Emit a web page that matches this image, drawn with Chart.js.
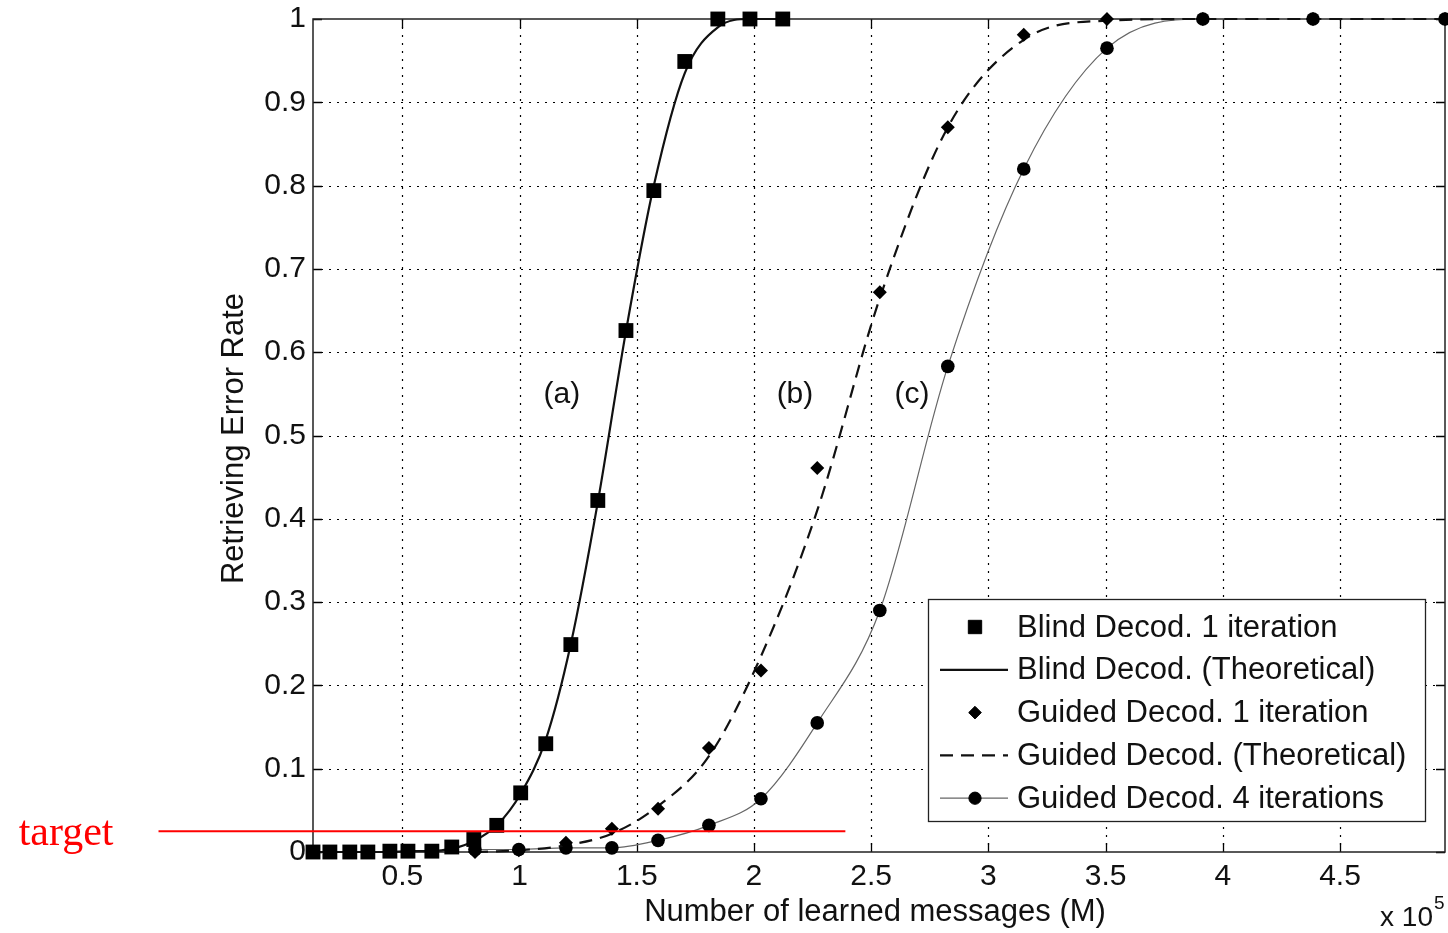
<!DOCTYPE html>
<html>
<head>
<meta charset="utf-8">
<script src="https://cdn.jsdelivr.net/npm/chart.js@4.4.0/dist/chart.umd.min.js"></script>
<style>
html,body{margin:0;padding:0;background:#fff;}
#wrap{position:relative;width:1448px;height:933px;}
</style>
</head>
<body>
<div id="wrap"><canvas id="c" width="1448" height="933"></canvas></div>
<script>
// ---------- DATA (x in units of 10^5 learned messages) ----------
const xBlind = [0.119, 0.191, 0.276, 0.353, 0.447, 0.524, 0.626, 0.711, 0.805, 0.903, 1.005, 1.112, 1.219, 1.334, 1.454, 1.573, 1.705, 1.846, 1.983, 2.123];
const blindSim = [0, 0, 0, 0, 0.001, 0.001, 0.001, 0.006, 0.015, 0.032, 0.071, 0.130, 0.249, 0.422, 0.626, 0.794, 0.949, 1, 1, 1];
const blindTheory = [0, 0, 0, 0, 0, 0.001, 0.001, 0.004, 0.013, 0.032, 0.070, 0.135, 0.250, 0.420, 0.625, 0.800, 0.935, 0.990, 1, 1];

const xGuided = [0.810, 0.997, 1.198, 1.394, 1.591, 1.808, 2.030, 2.270, 2.537, 2.827, 3.151, 3.506, 3.915, 4.385, 4.948];
const guided1 = [0, 0.002, 0.011, 0.028, 0.052, 0.125, 0.218, 0.461, 0.672, 0.870, 0.981, 1, 1, 1, 1];
const guidedTheory = [0, 0.002, 0.008, 0.022, 0.055, 0.115, 0.235, 0.410, 0.665, 0.870, 0.975, 0.998, 1, 1, 1];
const guided4 = [0.003, 0.003, 0.005, 0.005, 0.014, 0.032, 0.064, 0.155, 0.290, 0.583, 0.820, 0.965, 1, 1, 1];

const seriesLabels = ['Blind Decod. 1 iteration', 'Blind Decod. (Theoretical)', 'Guided Decod. 1 iteration', 'Guided Decod. (Theoretical)', 'Guided Decod. 4 iterations'];

const xTickValues = [0.5, 1, 1.5, 2, 2.5, 3, 3.5, 4, 4.5];
const xTickLabels = ['0.5', '1', '1.5', '2', '2.5', '3', '3.5', '4', '4.5'];
const yTickValues = [0, 0.1, 0.2, 0.3, 0.4, 0.5, 0.6, 0.7, 0.8, 0.9, 1];
const yTickLabels = ['0', '0.1', '0.2', '0.3', '0.4', '0.5', '0.6', '0.7', '0.8', '0.9', '1'];
const xMin = 0.119, xMax = 4.948;

const annotLabels = ['(a)', '(b)', '(c)'];
const annotX = [1.181, 2.175, 2.674];
const annotY = [0.549, 0.549, 0.549];

const targetLabel = 'target';
const targetY = 0.025;
const targetXStart = -0.54, targetXEnd = 2.39;

const xTitle = 'Number of learned messages (M)';
const yTitle = 'Retrieving Error Rate';
const xExponent = '5';

// ---------- helpers ----------
const FONT = '"Liberation Sans", Arial, Helvetica, sans-serif';
const pts = (xs, ys) => xs.map((x, i) => ({x: x, y: ys[i]}));

const matlabPlugin = {
  id: 'matlab',
  beforeDatasetsDraw(chart) {
    const {ctx, chartArea: a, scales: {x, y}} = chart;
    ctx.save();
    // dotted grid
    ctx.strokeStyle = '#000';
    ctx.lineWidth = 1.2;
    ctx.setLineDash([2, 6]);
    xTickValues.forEach(v => {
      const px = Math.round(x.getPixelForValue(v)) + 0.5;
      ctx.beginPath(); ctx.moveTo(px, a.top); ctx.lineTo(px, a.bottom); ctx.stroke();
    });
    yTickValues.forEach(v => {
      if (v <= 0 || v >= 1) return;
      const py = Math.round(y.getPixelForValue(v)) + 0.5;
      ctx.beginPath(); ctx.moveTo(a.left, py); ctx.lineTo(a.right, py); ctx.stroke();
    });
    ctx.setLineDash([]);
    // inner tick marks
    ctx.lineWidth = 1.3;
    const tl = 9;
    xTickValues.forEach(v => {
      const px = Math.round(x.getPixelForValue(v)) + 0.5;
      ctx.beginPath();
      ctx.moveTo(px, a.bottom); ctx.lineTo(px, a.bottom - tl);
      ctx.moveTo(px, a.top); ctx.lineTo(px, a.top + tl);
      ctx.stroke();
    });
    yTickValues.forEach(v => {
      const py = Math.round(y.getPixelForValue(v)) + 0.5;
      ctx.beginPath();
      ctx.moveTo(a.left, py); ctx.lineTo(a.left + tl, py);
      ctx.moveTo(a.right, py); ctx.lineTo(a.right - tl, py);
      ctx.stroke();
    });
    // axes box
    ctx.lineWidth = 1.5;
    ctx.strokeStyle = '#222';
    ctx.strokeRect(a.left, a.top, a.right - a.left, a.bottom - a.top);
    ctx.restore();
  },
  afterDatasetsDraw(chart) {
    const {ctx, chartArea: a, scales: {x, y}} = chart;
    ctx.save();
    // annotations (a) (b) (c)
    ctx.fillStyle = '#111';
    ctx.font = '30px ' + FONT;
    ctx.textAlign = 'center';
    ctx.textBaseline = 'middle';
    annotLabels.forEach((t, i) => {
      ctx.fillText(t, x.getPixelForValue(annotX[i]), y.getPixelForValue(annotY[i]));
    });

    // legend box
    const lw = 497, lh = 222;
    const lx = a.right - 20 - lw, ly = a.bottom - 31 - lh;
    ctx.fillStyle = '#fff';
    ctx.fillRect(lx, ly, lw, lh);
    ctx.strokeStyle = '#222';
    ctx.lineWidth = 1.3;
    ctx.strokeRect(lx + 0.5, ly + 0.5, lw, lh);
    chart.data.datasets.forEach((ds, i) => {
      const cy = ly + 28 + i * 42.8;
      const sx0 = lx + 12, sx1 = lx + 80, mx = lx + 47;
      if (ds.showLine) {
        ctx.save();
        ctx.strokeStyle = ds.borderColor;
        ctx.lineWidth = ds.borderWidth;
        ctx.setLineDash(ds.borderDash || []);
        ctx.beginPath(); ctx.moveTo(sx0, cy); ctx.lineTo(sx1, cy); ctx.stroke();
        ctx.restore();
      }
      if (ds.pointRadius > 0) {
        ctx.save();
        ctx.fillStyle = ds.pointBackgroundColor;
        ctx.strokeStyle = ds.pointBorderColor;
        ctx.lineWidth = 1;
        Chart.helpers.drawPoint(ctx, {pointStyle: ds.pointStyle, radius: ds.pointRadius * 0.9, rotation: 0, borderWidth: 1}, mx, cy);
        ctx.restore();
      }
      ctx.fillStyle = '#111';
      ctx.font = '31px ' + FONT;
      ctx.textAlign = 'left';
      ctx.textBaseline = 'middle';
      ctx.fillText(ds.label, lx + 89, cy + 1);
    });

    // axis titles
    ctx.fillStyle = '#111';
    ctx.font = '31px ' + FONT;
    ctx.textAlign = 'center';
    ctx.textBaseline = 'middle';
    ctx.fillText(xTitle, (a.left + a.right) / 2 - 4, a.bottom + 60);
    ctx.save();
    ctx.translate(a.left - 79, (a.top + a.bottom) / 2 + 3);
    ctx.rotate(-Math.PI / 2);
    ctx.fillText(yTitle, 0, 0);
    ctx.restore();
    // x 10^5
    ctx.font = '28px ' + FONT;
    ctx.textAlign = 'right';
    ctx.fillText('x 10', a.right - 12, a.bottom + 66);
    ctx.font = '19px ' + FONT;
    ctx.textAlign = 'left';
    ctx.fillText(xExponent, a.right - 11, a.bottom + 52);

    // target line + label
    const tx0 = x.getPixelForValue(targetXStart), tx1 = x.getPixelForValue(targetXEnd);
    const ty = y.getPixelForValue(targetY);
    ctx.strokeStyle = '#ff0000';
    ctx.lineWidth = 2;
    ctx.beginPath(); ctx.moveTo(tx0, ty); ctx.lineTo(tx1, ty); ctx.stroke();
    ctx.fillStyle = '#ff0000';
    ctx.font = '42px "Liberation Serif", "Times New Roman", serif';
    ctx.textAlign = 'right';
    ctx.textBaseline = 'alphabetic';
    ctx.fillText(targetLabel, tx0 - 45, ty + 14);
    ctx.restore();
  }
};

const ctx = document.getElementById('c').getContext('2d');
new Chart(ctx, {
  type: 'scatter',
  data: {
    datasets: [
      {label: seriesLabels[0], data: pts(xBlind, blindSim), showLine: false, pointStyle: 'rect', pointRadius: 10.5,
       pointBackgroundColor: '#000', pointBorderColor: '#000', pointBorderWidth: 0, backgroundColor: '#000', borderColor: '#000', clip: false},
      {label: seriesLabels[1], data: pts(xBlind, blindTheory), showLine: true, pointRadius: 0, borderColor: '#111', borderWidth: 2.2,
       cubicInterpolationMode: 'monotone', clip: false},
      {label: seriesLabels[2], data: pts(xGuided, guided1), showLine: false, pointStyle: 'rectRot', pointRadius: 7,
       pointBackgroundColor: '#000', pointBorderColor: '#000', pointBorderWidth: 0, backgroundColor: '#000', borderColor: '#000', clip: false},
      {label: seriesLabels[3], data: pts(xGuided, guidedTheory), showLine: true, pointRadius: 0, borderColor: '#111', borderWidth: 2.2,
       borderDash: [13, 8], cubicInterpolationMode: 'monotone', clip: false},
      {label: seriesLabels[4], data: pts(xGuided, guided4), showLine: true, pointStyle: 'circle', pointRadius: 6.8,
       pointBackgroundColor: '#000', pointBorderColor: '#000', pointBorderWidth: 0, borderColor: '#666', borderWidth: 1.2,
       cubicInterpolationMode: 'monotone', clip: false}
    ]
  },
  options: {
    responsive: false,
    animation: false,
    devicePixelRatio: 1,
    layout: {autoPadding: false, padding: {left: 0, top: 19, right: 3, bottom: 0}},
    plugins: {legend: {display: false}, tooltip: {enabled: false}},
    elements: {line: {tension: 0}},
    scales: {
      x: {
        type: 'linear', min: xMin, max: xMax,
        grid: {display: false, drawTicks: false},
        border: {display: false},
        afterBuildTicks: s => { s.ticks = xTickValues.map(v => ({value: v})); },
        afterFit: s => { s.height = 81; s.paddingLeft = 0; s.paddingRight = 0; },
        ticks: {
          autoSkip: false, maxRotation: 0, padding: 7, color: '#111',
          font: {family: FONT, size: 30},
          callback: (v, i) => xTickLabels[i]
        }
      },
      y: {
        type: 'linear', min: 0, max: 1,
        grid: {display: false, drawTicks: false},
        border: {display: false},
        afterBuildTicks: s => { s.ticks = yTickValues.map(v => ({value: v})); },
        afterFit: s => { s.width = 313; s.paddingTop = 0; s.paddingBottom = 0; },
        ticks: {
          autoSkip: false, padding: 7, color: '#111',
          font: {family: FONT, size: 30},
          callback: (v, i) => yTickLabels[i]
        }
      }
    }
  },
  plugins: [matlabPlugin]
});
</script>
</body>
</html>
